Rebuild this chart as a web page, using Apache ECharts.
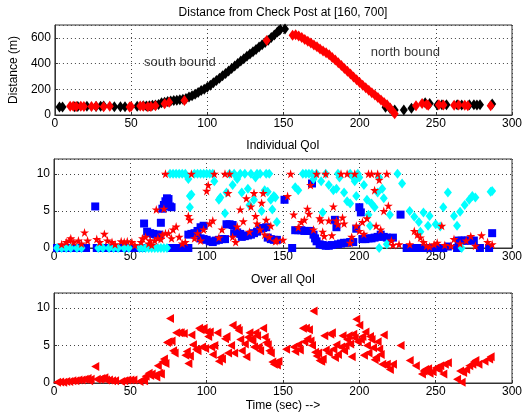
<!DOCTYPE html>
<html lang="en">
<head>
<meta charset="UTF-8">
<title>Distance and QoI</title>
<script src="https://cdn.jsdelivr.net/npm/echarts@6/dist/echarts.min.js"></script>
<style>
  html, body { margin: 0; padding: 0; background: #fff; }
  #main { width: 527px; height: 414px; }
</style>
</head>
<body>
<div id="main"></div>
<script>
// ---- data: [time (sec), value] ----
// distance plot, black diamonds (south bound + stray)
var blackDist = [[3,62],[5,62],[13,65],[15,66],[21,68],[27,66],[30,68],[32,70],[39,65],[43,65],[46,65],[54,68],[58,72],[60,70],[62,72],[64,75],[66,78],[68,82],
  [70,95],[72,100],[74,105],[76,108],[78,112],[80,115],[82,118],[84,122],[86,128],[88,140],[90,150],[92,162],[94,175],[96,190],[98,200],
  [100,215],[102,232],[104,250],[106,268],[108,286],[110,305],[112,323],[114,342],[116,362],[118,381],[120,400],[122,420],[124,438],
  [126,456],[128,474],[130,492],[132,510],[134,528],[136,546],[138,564],[140,582],[142,603],[144,622],[146,645],[147,655],[148,665],[151,668],
  [217,60],[220,50],[223,39],[229,39],[234,52],[243,96],[246,90],[251,78],[254,80],[257,80],[264,80],[267,78],[272,80],[275,80],[277,78],[279,80],[287,85]];
// distance plot, red diamonds (north bound + stray)
var redDist = [[10,68],[12,68],[14,66],[17,68],[19,66],[24,66],[27,68],[32,65],[36,68],[49,63],[50,66],[56,70],[58,68],[61,65],[63,66],[66,72],
  [72,88],[75,100],[85,112],[139,580],
  [156,620],[158,624],[160,614],[162,602],[164,588],[166,574],[168,560],[170,545],[172,530],[174,514],[176,498],[178,485],[180,468],
  [182,448],[184,428],[186,407],[188,385],[190,362],[192,340],[194,318],[196,296],[198,274],[200,252],[202,232],[204,212],[206,193],
  [208,174],[210,155],[212,136],[214,117],[216,98],[218,80],[220,55],[222,25],[223,10],
  [237,72],[241,90],[244,82],[245,76],[252,80],[255,78],[262,76],[265,78],[269,75],[271,72],[286,72]];
var annoNames = ['south bound', 'north bound'];
var annoPos = [[82, 407], [230, 485]];

// individual QoI
var qoiStar = [[5,0.5],[8,0.8],[10,1.0],[11,1.3],[13,0.8],[16,1.0],[18,0.6],[20,2.1],[22,1.0],[28,1.2],[30,0.8],[33,1.9],[35,1.0],[38,0.8],
  [40,0.5],[44,0.9],[46,0.8],[48,0.9],[51,0.8],[53,0.4],[57,0.8],[58,1.3],[60,1.5],[62,0.6],[63,1.0],[64,0.4],[66,1.0],[67,5.2],[68,1.3],
  [70,1.2],[71,1.8],[72,5.3],[73,2.0],[73,10],[75,2.0],[77,1.3],[78,2.5],[80,2.9],[82,1.5],[84,0.6],[86,0.8],[88,4.3],[89,3.8],[90,10],
  [92,1.3],[94,2.0],[96,1.0],[98,2.5],[100,7.7],[101,8.5],[102,3.3],[104,3.7],[105,10],[108,1.4],[110,2.5],[112,10],[114,7.4],[115,10],
  [117,1.5],[119,0.8],[120,2.9],[122,5.2],[124,3.6],[126,6.7],[128,2.2],[129,5.6],[131,7.4],[132,4.3],[133,3.3],[135,2.5],[136,6.1],
  [137,7.4],[138,1.8],[139,3.8],[141,1.5],[142,3.0],[145,0.9],[146,1.0],[150,1.1],[153,7.0],[155,10],[157,4.5],[160,2.8],[162,3.5],
  [164,3.8],[166,5.3],[167,4.6],[168,8.5],[170,2.5],[172,10],[174,4.0],[175,3.7],[176,2.2],[177,1.6],[178,10],[180,3.7],[182,1.7],
  [183,5.6],[185,3.7],[186,3.2],[188,10],[189,4.1],[190,3.3],[192,10],[194,0.7],[195,1.5],[197,10],[198,3.0],[200,2.3],[202,3.5],
  [203,1.9],[205,4.0],[206,10],[208,10],[210,7.8],[211,3.0],[212,10],[213,9.2],[214,2.5],[216,5.0],[218,10],[219,5.7],[221,1.0],
  [222,0.4],[226,0.5],[233,0.5],[236,2.3],[238,1.8],[240,1.4],[242,0.8],[244,0.3],[246,0.2],[249,0.5],[251,0.7],[254,3.0],[256,0.4],
  [260,0.3],[262,1.2],[266,0.6],[270,1.0],[273,1.6],[276,0.3],[280,1.7],[284,0.8],[287,0.5]];
var qoiSquare = [[2,0],[4,0],[7,0],[9,0],[12,0],[14,0],[17,0],[19,0],[21,0],[27,5.6],[28,0],[30,0],[33,0],[35,0],[37,0],[40,0],[43,0],
  [45,0],[48,0],[50,0],[55,0],[57,0],[59,3.3],[61,2.2],[63,2.0],[65,1.9],[67,1.8],[69,1.8],[70,3.4],[71,5.3],[72,5.8],[73,6.3],[74,6.7],
  [75,6.6],[76,5.6],[77,5.5],[76,0],[78,0],[80,0],[82,0],[84,0],[86,0],[88,0],[88,1.8],[90,1.9],[92,2.0],[94,2.3],[96,2.8],[98,3.0],
  [96,1.3],[98,1.2],[100,1.1],[102,0.9],[104,0.8],[106,1.0],[108,1.1],[110,1.2],[112,1.2],[113,3.2],[115,3.2],[117,3.1],[118,2.0],
  [120,2.1],[122,1.9],[123,1.5],[125,1.6],[127,1.7],[129,1.8],[131,2.0],[133,2.2],[135,2.6],[137,2.7],[139,2.8],[140,1.4],[142,1.2],
  [144,1.1],[146,1.1],[151,6.5],[156,0],[158,2.4],[160,2.4],[162,2.4],[164,2.3],[166,2.3],[169,8.7],[168,2.3],[170,1.8],[171,1.3],
  [172,0.9],[174,0.5],[176,0.4],[178,0.3],[180,0.3],[182,0.4],[184,3.8],[185,2.8],[186,0.5],[188,0.6],[190,0.7],[192,0.7],[194,0.8],
  [196,0.8],[198,2.6],[200,5.5],[201,4.8],[202,1.2],[204,1.2],[206,1.3],[208,1.3],[210,1.4],[212,1.5],[214,1.8],[216,1.5],[218,1.4],
  [220,1.3],[222,1.4],[227,4.5],[231,0],[233,0],[235,0],[237,0],[239,0],[241,0],[243,0],[245,0],[247,0],[249,0],[251,0],[253,0],[255,0],
  [258,0.2],[264,0],[265,1.0],[267,1.0],[269,1.0],[271,1.0],[273,1.0],[275,1.0],[279,0],[285,0],[287,2.0]];
var qoiDiamond = [[2,0],[5,0],[8,0],[11,0],[15,0],[18,0],[29,0],[32,0],[36,0],[39,0],[42,0],[46,0],[49,0],[56,0],[58,0],[60,0],[62,0],
  [64,0],[66,0],[68,0],[70,0],[72,0],[74,0],[76,10],[78,10],[80,10],[82,10],[84,10],[86,10],[88,9.3],[89,7.0],[89,5.5],[90,7.2],
  [92,10],[94,10],[96,10],[98,10],[100,10],[102,10],[104,10],[105,9.0],[108,6.5],[109,6.8],[112,4.7],[113,7.5],[115,10],[117,8.5],
  [118,10],[120,9.3],[122,10],[123,7.5],[125,10],[127,8.0],[128,5.8],[129,10],[131,6.5],[132,9.5],[133,10],[135,10],[136,5.0],
  [138,7.8],[139,10],[140,7.6],[141,10],[142,6.5],[143,5.2],[144,7.0],[145,6.8],[146,3.5],[158,8.2],[160,7.8],[163,10],[165,10],
  [167,10],[169,10],[170,9.3],[172,10],[175,9.0],[176,4.8],[178,10],[180,8.5],[183,7.8],[185,8.0],[186,10],[187,9.5],[190,7.5],
  [192,6.3],[194,6.0],[194,10],[196,9.5],[197,9.0],[198,7.0],[199,10],[200,9.5],[203,8.5],[205,6.5],[206,4.5],[207,3.0],[208,6.0],
  [210,5.5],[212,7.5],[213,9.5],[213,0],[215,8.0],[216,6.7],[218,0.5],[220,4.5],[225,10],[228,8.7],[233,5.0],[236,4.2],[239,3.5],
  [240,2.2],[242,4.8],[245,3.0],[246,4.3],[250,3.2],[253,2.9],[255,5.5],[258,7.5],[262,4.3],[264,3.0],[266,4.9],[267,0],[269,5.8],
  [272,6.5],[274,7.0],[276,6.8],[286,7.6],[287,7.7]];

// over all QoI
var qoiAll = [[2,0.1],[4,0.15],[6,0.1],[8,0.2],[10,0.2],[12,0.3],[14,0.3],[16,0.4],[18,0.4],[20,0.5],[22,0.6],[23,0.3],[24,0.5],[27,2.2],
  [28,0.5],[30,0.5],[31,0.6],[33,0.7],[34,0.4],[36,0.4],[38,0.3],[40,0.3],[44,0.2],[46,0.3],[48,0.4],[50,0.4],[52,0.4],[56,0.2],[58,0.4],
  [59,0.3],[60,0.9],[62,1.3],[63,1.0],[64,1.2],[66,1.0],[67,0.8],[68,2.3],[69,1.3],[70,1.2],[71,2.8],[72,3.2],[73,2.6],[74,5.4],[75,5.5],
  [76,8.6],[77,5.6],[78,4.3],[79,4.0],[80,6.7],[82,6.7],[83,6.7],[85,6.6],[86,3.7],[87,4.2],[88,2.6],[89,3.6],[90,6.4],[91,5.1],[93,4.5],
  [94,4.3],[95,7.3],[96,7.1],[97,4.8],[98,7.3],[99,4.6],[100,6.8],[101,6.2],[102,6.8],[103,4.8],[104,3.8],[105,5.0],[107,6.7],[108,2.9],
  [109,3.4],[110,3.2],[112,5.9],[113,6.2],[114,4.0],[116,5.0],[117,7.7],[118,4.0],[120,7.3],[121,7.0],[122,5.8],[123,4.3],[125,5.2],
  [126,3.5],[127,6.1],[128,6.7],[129,5.8],[130,5.6],[131,4.8],[132,6.7],[133,6.3],[134,4.8],[135,4.3],[137,7.3],[138,6.1],[139,5.4],
  [140,5.1],[141,4.3],[142,4.0],[143,2.8],[144,2.5],[145,2.7],[146,2.4],[147,2.9],[152,4.5],[157,4.8],[158,4.2],[160,5.1],[161,4.4],
  [163,7.3],[164,5.5],[165,7.3],[166,5.9],[167,7.1],[168,5.6],[169,5.0],[170,9.6],[171,4.1],[172,3.6],[173,4.0],[174,3.0],[175,2.9],
  [176,3.2],[177,6.3],[178,4.4],[180,4.0],[181,6.5],[182,6.7],[183,4.5],[184,3.4],[185,5.1],[186,3.8],[188,4.8],[189,6.3],[190,4.3],
  [191,5.0],[192,5.8],[193,6.3],[194,5.2],[195,3.5],[196,6.5],[197,6.0],[198,8.5],[199,5.5],[200,7.7],[201,5.8],[202,6.2],[203,3.7],
  [204,6.8],[205,5.0],[206,4.0],[207,6.2],[208,5.8],[209,4.7],[210,3.1],[211,3.4],[212,5.5],[213,4.5],[214,3.8],[215,2.5],[216,6.4],
  [217,2.4],[218,2.5],[220,1.8],[222,2.5],[227,5.0],[233,3.0],[237,2.3],[241,1.2],[242,1.6],[243,1.8],[245,1.9],[246,1.3],[248,1.5],
  [250,2.0],[252,1.8],[253,2.3],[255,1.2],[256,2.5],[258,2.7],[264,0.5],[266,1.6],[267,0.1],[268,1.4],[270,1.8],[272,2.3],[274,2.5],
  [275,2.8],[276,3.0],[278,2.5],[282,2.9],[285,3.2],[286,3.5]];

var timeTicks = [0, 50, 100, 150, 200, 250, 300];

// ---- chart ----
var FONT = 'Liberation Sans, Arial, sans-serif';
var STAR = 'path://M50,0 L61,35 L98,35 L68,57 L79,91 L50,70 L21,91 L32,57 L2,35 L39,35 Z';
var LEFT_TRI = 'path://M0,50 L100,0 L100,100 Z';

function xAx(i, name) {
    return {
        gridIndex: i, type: 'value', min: timeTicks[0], max: timeTicks[timeTicks.length - 1], interval: 50,
        name: name || '', nameLocation: 'middle', nameGap: 17,
        nameTextStyle: {fontFamily: FONT, fontSize: 12, color: '#000'},
        axisLine: {lineStyle: {color: '#333'}},
        axisTick: {inside: true, length: 3, lineStyle: {color: '#333'}},
        axisLabel: {fontFamily: FONT, fontSize: 12, color: '#000', margin: 3},
        splitLine: {show: true, lineStyle: {color: '#444', type: [1, 3]}}
    };
}
function yAx(i, max, interval, name) {
    return {
        gridIndex: i, type: 'value', min: 0, max: max, interval: interval,
        name: name || '', nameLocation: 'middle', nameGap: 29,
        nameTextStyle: {fontFamily: FONT, fontSize: 12, color: '#000'},
        axisLine: {show: true, lineStyle: {color: '#333'}},
        axisTick: {show: true, inside: true, length: 3, lineStyle: {color: '#333'}},
        axisLabel: {fontFamily: FONT, fontSize: 12, color: '#000', margin: 4, showMaxLabel: false},
        splitLine: {show: true, lineStyle: {color: '#444', type: [1, 3]}}
    };
}
function ttl(text, y) {
    return {text: text, left: 283, top: y, textAlign: 'center', padding: 0,
        textStyle: {fontFamily: FONT, fontSize: 12, fontWeight: 'normal', color: '#000'}};
}

var chart = echarts.init(document.getElementById('main'));
var option = {
    animation: false,
    backgroundColor: '#fff',
    title: [
        ttl('Distance from Check Post at [160, 700]', 7),
        ttl('Individual QoI', 140),
        ttl('Over all QoI', 274)
    ],
    grid: [
        {left: 54, top: 25, width: 458, height: 90, show: true, borderColor: '#333', borderWidth: 1},
        {left: 54, top: 159, width: 458, height: 89, show: true, borderColor: '#333', borderWidth: 1},
        {left: 54, top: 293, width: 458, height: 90, show: true, borderColor: '#333', borderWidth: 1}
    ],
    xAxis: [xAx(0), xAx(1), xAx(2, 'Time (sec) -->')],
    yAxis: [yAx(0, 700, 200, 'Distance (m)'), yAx(1, 12, 5), yAx(2, 12, 5)],
    series: [
        {type: 'scatter', xAxisIndex: 0, yAxisIndex: 0, data: blackDist, symbol: 'diamond', symbolSize: [8, 11],
            itemStyle: {color: '#000', opacity: 1}},
        {type: 'scatter', xAxisIndex: 0, yAxisIndex: 0, data: redDist, symbol: 'diamond', symbolSize: [8, 11],
            itemStyle: {color: '#ff0000', opacity: 1}},
        {type: 'scatter', xAxisIndex: 0, yAxisIndex: 0, symbolSize: 0, silent: true,
            data: annoPos.map(function (p, k) { return {name: annoNames[k], value: p}; }),
            label: {show: true, position: 'inside', formatter: '{b}', fontFamily: FONT, fontSize: 13, color: '#000'}},
        {type: 'scatter', xAxisIndex: 1, yAxisIndex: 1, data: qoiSquare, symbol: 'rect', symbolSize: 8,
            itemStyle: {color: '#0000ff', opacity: 1}},
        {type: 'scatter', xAxisIndex: 1, yAxisIndex: 1, data: qoiDiamond, symbol: 'diamond', symbolSize: [8, 10],
            itemStyle: {color: '#00ffff', opacity: 1}},
        {type: 'scatter', xAxisIndex: 1, yAxisIndex: 1, data: qoiStar, symbol: STAR, symbolSize: 9,
            itemStyle: {color: '#ff0000', opacity: 1}},
        {type: 'scatter', xAxisIndex: 2, yAxisIndex: 2, data: qoiAll, symbol: LEFT_TRI, symbolSize: [8, 9],
            itemStyle: {color: '#ff0000', opacity: 1}}
    ]
};
chart.setOption(option);
</script>
</body>
</html>
